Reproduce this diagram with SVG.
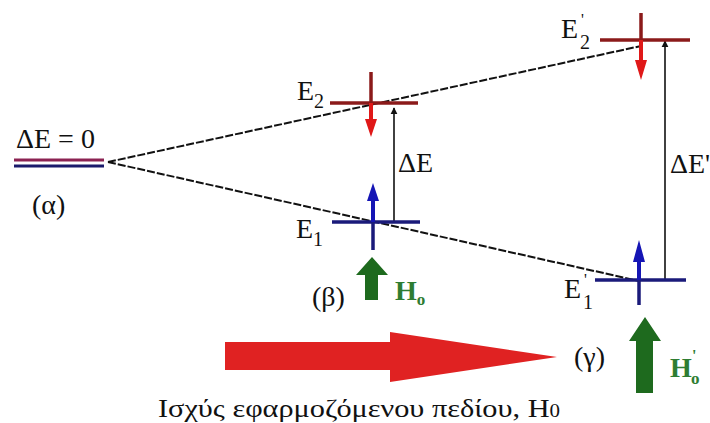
<svg xmlns="http://www.w3.org/2000/svg" width="710" height="423" viewBox="0 0 710 423">
<defs>
<style>
.t{font-family:"Liberation Serif","Times New Roman",serif;fill:#111;font-size:28px}
.s{font-size:20px}
.p{font-size:16px}
.so{font-size:17px}
.g{fill:#2e7d32;font-weight:bold}
.dash{stroke:#111;stroke-width:2;stroke-dasharray:8 2;fill:none}
.red{stroke:#8b1a1a;stroke-width:3.5}
.blue{stroke:#1a1a7a;stroke-width:3.5}
.blk{stroke:#111;stroke-width:1.6}
.ra{fill:#e01818}
.ba{fill:#1515b5}
.ga{fill:#1e6a1e}
</style>
<marker id="ah" viewBox="0 0 10 10" refX="9" refY="5" markerWidth="7" markerHeight="9" markerUnits="userSpaceOnUse" orient="auto">
<path d="M0,0 L10,5 L0,10 z" fill="#111"/>
</marker>
</defs>
<rect width="710" height="423" fill="#fff"/>

<g id="connectors">
<line class="dash" x1="108" y1="162" x2="641" y2="46"/>
<line class="dash" x1="108" y1="162" x2="639" y2="281"/>
<line class="blk" x1="394" y1="222" x2="394" y2="108" marker-end="url(#ah)"/>
<line class="blk" x1="665" y1="280" x2="665" y2="41" marker-end="url(#ah)"/>
</g>

<g id="level-a">
<line x1="14" y1="160" x2="104" y2="160" stroke="#8b2252" stroke-width="3"/>
<line x1="14" y1="166" x2="104" y2="166" stroke="#1a1a6b" stroke-width="3"/>
<text class="t" x="16" y="148">ΔE = 0</text>
<text class="t" x="32" y="214">(α)</text>
</g>

<g id="E2">
<line class="red" x1="330" y1="103" x2="418" y2="103"/>
<line class="red" x1="371" y1="72" x2="371" y2="104"/>
<polygon class="ra" points="369,103 373,103 373,119 377,119 371,137 365,119 369,119"/>
<text class="t" x="297" y="100">E<tspan class="s" dy="8">2</tspan></text>
</g>

<g id="E1">
<line class="blue" x1="332" y1="222" x2="420" y2="222"/>
<line class="blue" x1="373" y1="200" x2="373" y2="250"/>
<polygon class="ba" points="371,222 375,222 375,201 379,201 373,183 367,201 371,201"/>
<text class="t" x="296" y="238">E<tspan class="s" dy="8">1</tspan></text>
<text class="t" x="398" y="172">ΔE</text>
</g>

<g id="E2p">
<line class="red" x1="600" y1="40" x2="690" y2="40"/>
<line class="red" x1="641" y1="13" x2="641" y2="41"/>
<polygon class="ra" points="639,40 643,40 643,60 647,60 641,80 635,60 639,60"/>
<text class="t" x="561" y="38">E</text>
<text class="t p" x="581" y="25">'</text>
<text class="t s" x="580" y="49">2</text>
</g>

<g id="E1p">
<line class="blue" x1="595" y1="280" x2="686" y2="280"/>
<line class="blue" x1="639" y1="262" x2="639" y2="305"/>
<polygon class="ba" points="637,280 641,280 641,262 645,262 639,240 633,262 637,262"/>
<text class="t" x="564" y="298">E</text>
<text class="t p" x="584" y="285">'</text>
<text class="t s" x="583" y="309">1</text>
<text class="t" x="670" y="173">ΔE'</text>
</g>

<g id="field-b">
<polygon class="ga" points="365,300 378,300 378,275 388,275 372,257 356,275 365,275"/>
<text class="t" x="312" y="306">(β)</text>
<text class="t g" x="395" y="300">H<tspan class="so" dy="5">o</tspan></text>
</g>

<g id="field-g">
<polygon class="ga" points="636,393 653,393 653,341 661,341 645,317 629,341 636,341"/>
<text class="t" x="574" y="366">(γ)</text>
<text class="t g" x="670" y="377">H</text>
<text class="t g p" x="692" y="361">'</text>
<text class="t g so" x="691" y="384">o</text>
</g>

<g id="field-arrow">
<polygon points="225,342 390,342 390,332 557,357 390,382 390,370 225,370" fill="#e02222"/>
<text class="t" x="158" y="417" style="font-size:26px" textLength="402" lengthAdjust="spacingAndGlyphs">Ισχύς εφαρμοζόμενου πεδίου, H<tspan style="font-size:18px">0</tspan></text>
</g>
</svg>
